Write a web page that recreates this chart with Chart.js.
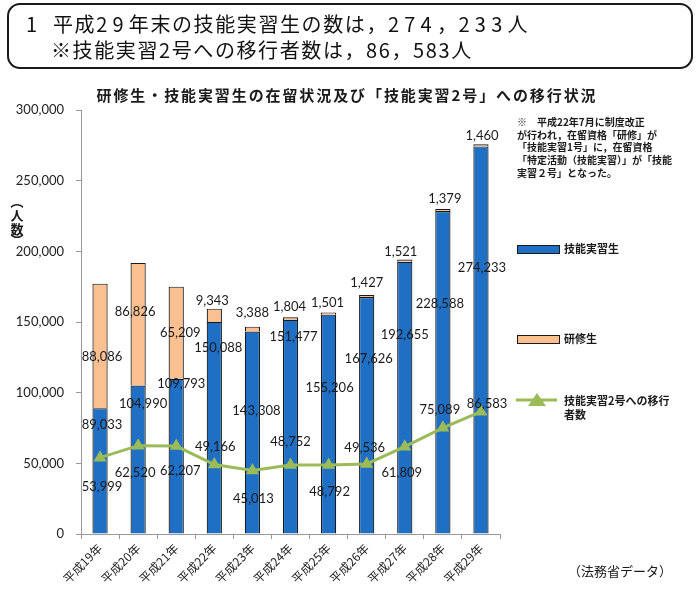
<!DOCTYPE html>
<html lang="ja">
<head>
<meta charset="utf-8">
<script src="https://cdn.jsdelivr.net/npm/chart.js@4.4.1/dist/chart.umd.min.js"></script>
<style>
    body { margin: 0; background: #fff; }
    #wrap { position: relative; width: 700px; height: 589px; }
    #chart { position: absolute; left: 0; top: 0; }
    .headline {
        position: absolute; left: 7px; top: 3px; width: 686px; height: 66px;
        box-sizing: border-box; border: 2px solid #1a1a1a; border-radius: 13px;
        font-family: 'Noto Sans CJK JP'; font-size: 20px; color: #111; letter-spacing: 1.6px;
    }
    .headline div { position: absolute; white-space: nowrap; line-height: 26px; }
    .headline span { letter-spacing: 5.2px; }
</style>
</head>
<body>
<div id="wrap">
    <canvas id="chart" width="700" height="589"></canvas>
    <div class="headline">
        <div style="left:17px; top:6px;">1</div>
        <div style="left:44px; top:6px;">平成<span>29</span>年末の技能実習生の数は，<span>274</span>，<span>233</span>人</div>
        <div style="left:42px; top:32px;">※技能実習2号への移行者数は，86，583人</div>
    </div>
</div>
<script>
const years = ['平成19年', '平成20年', '平成21年', '平成22年', '平成23年', '平成24年',
    '平成25年', '平成26年', '平成27年', '平成28年', '平成29年'];
const traineesTech = [89033, 104990, 109793, 150088, 143308, 151477, 155206, 167626, 192655, 228588, 274233];
const trainees = [88086, 86826, 65209, 9343, 3388, 1804, 1501, 1427, 1521, 1379, 1460];
const movedTo2 = [53999, 62520, 62207, 49166, 45013, 48752, 48792, 49536, 61809, 75089, 86583];
const yTicks = [0, 50000, 100000, 150000, 200000, 250000, 300000];

const chartTitle = '研修生・技能実習生の在留状況及び「技能実習2号」への移行状況';
const noteLines = [
    '※　平成22年7月に制度改正',
    'が行われ，在留資格「研修」が',
    '「技能実習1号」に，在留資格',
    '「特定活動（技能実習）」が「技能',
    '実習２号」となった。'
];

const blue = '#1f6fc4';
const peach = '#fac090';
const green = '#9bbb59';
const edge = '#1a1a1a';
const jp = "'Noto Sans CJK JP'";

// label nudges (px) from each mark's anchor, per dataset
const labelNudge = [
    [[2, 17], [5, 18], [5, 5], [4, 26], [4, 79], [3, 17], [1, 73], [2, 62], [0, 73], [-3, 93], [1, 121]],
    [[2, 73], [-3, 49], [4, 46], [-2, -8], [0, -14], [-1, -11], [-1, -10], [0, -12], [-4, -8], [2, -10], [1, -9]],
    [[2, 29], [-3, 27], [4, 25], [1, -18], [1, 28], [0, -23], [1, 27], [-2, -16], [-3, 26], [-3, -18], [6, -8]]
];

const valueLabels = {
    id: 'valueLabels',
    afterDatasetsDraw(chart) {
        let ctx = chart.ctx;
        ctx.save();
        ctx.font = '13px Lato';
        ctx.fillStyle = '#1a1a1a';
        ctx.textAlign = 'center';
        ctx.textBaseline = 'middle';
        chart.data.datasets.forEach((ds, i) => {
            let meta = chart.getDatasetMeta(i);
            meta.data.forEach((el, j) => {
                let n = labelNudge[i][j];
                ctx.fillText(ds.data[j].toLocaleString('en-US'), el.x + n[0], el.y + n[1]);
            });
        });
        ctx.restore();
    }
};

const extras = {
    id: 'extras',
    afterDraw(chart) {
        let ctx = chart.ctx;
        ctx.save();
        ctx.fillStyle = '#1a1a1a';
        ctx.textBaseline = 'middle';

        // chart title
        ctx.textAlign = 'center';
        ctx.font = 'bold 15px ' + jp;
        ctx.letterSpacing = '1.9px';
        ctx.fillText(chartTitle, 347, 95);
        ctx.letterSpacing = '0px';

        // y axis title, vertical
        ctx.font = 'bold 13px ' + jp;
        ['︵', '人', '数', '︶'].forEach((c, i) => {
            ctx.fillText(c, 17, [201, 215, 229, 240][i]);
        });

        // note
        ctx.textAlign = 'left';
        ctx.font = 'bold 10px ' + jp;
        noteLines.forEach((t, i) => ctx.fillText(t, 517, 122 + i * 12.8));

        // legend
        ctx.lineWidth = 1;
        ctx.strokeStyle = edge;
        ctx.fillStyle = blue;
        ctx.fillRect(517, 245, 42, 8);
        ctx.strokeRect(517.5, 245.5, 42, 8);
        ctx.fillStyle = peach;
        ctx.fillRect(517, 335, 42, 8);
        ctx.strokeRect(517.5, 335.5, 42, 8);

        ctx.strokeStyle = green;
        ctx.lineWidth = 3;
        ctx.beginPath();
        ctx.moveTo(516, 400);
        ctx.lineTo(557, 400);
        ctx.stroke();
        ctx.fillStyle = green;
        ctx.beginPath();
        ctx.moveTo(537, 393);
        ctx.lineTo(546, 406);
        ctx.lineTo(528, 406);
        ctx.closePath();
        ctx.fill();

        ctx.fillStyle = '#1a1a1a';
        ctx.font = 'bold 11px ' + jp;
        ctx.fillText('技能実習生', 564, 249);
        ctx.fillText('研修生', 564, 339);
        ctx.fillText('技能実習2号への移行', 564, 401);
        ctx.fillText('者数', 564, 415);

        // source
        ctx.font = '13px ' + jp;
        ctx.fillText('（法務省データ）', 568, 571);
        ctx.restore();
    }
};

new Chart(document.getElementById('chart'), {
    data: {
        labels: years,
        datasets: [
            {
                type: 'bar',
                label: '技能実習生',
                data: traineesTech,
                backgroundColor: blue,
                borderColor: edge,
                borderWidth: 1.2,
                stack: 'people',
                order: 1,
                barPercentage: 0.4,
                categoryPercentage: 1
            },
            {
                type: 'bar',
                label: '研修生',
                data: trainees,
                backgroundColor: peach,
                borderColor: edge,
                borderWidth: 1.2,
                stack: 'people',
                order: 1,
                barPercentage: 0.4,
                categoryPercentage: 1
            },
            {
                type: 'line',
                label: '技能実習2号への移行者数',
                data: movedTo2,
                borderColor: green,
                backgroundColor: green,
                borderWidth: 3,
                pointStyle: 'triangle',
                pointRadius: 7.5,
                pointBorderWidth: 0,
                tension: 0,
                stack: 'moved',
                order: 0
            }
        ]
    },
    options: {
        responsive: false,
        animation: false,
        locale: 'en-US',
        layout: { padding: { left: 0, right: 200, top: 110, bottom: 0 } },
        plugins: {
            legend: { display: false },
            tooltip: { enabled: false },
            title: { display: false }
        },
        scales: {
            x: {
                stacked: true,
                grid: { drawOnChartArea: false, color: '#999', tickLength: 5 },
                border: { color: '#999' },
                ticks: {
                    color: '#222',
                    font: { family: jp, size: 12 },
                    maxRotation: 45,
                    minRotation: 45,
                    padding: 2
                },
                afterFit: scale => { scale.height = 55; }
            },
            y: {
                stacked: true,
                min: 0,
                max: 300000,
                afterBuildTicks: scale => { scale.ticks = yTicks.map(v => ({value: v})); },
                grid: { drawOnChartArea: false, color: '#999', tickLength: 5 },
                border: { color: '#999' },
                ticks: {
                    color: '#222',
                    font: { family: 'Lato', size: 13 },
                    padding: 12,
                    callback: v => v.toLocaleString('en-US')
                },
                afterFit: scale => { scale.width = 81; }
            }
        }
    },
    plugins: [valueLabels, extras]
});
</script>
</body>
</html>
